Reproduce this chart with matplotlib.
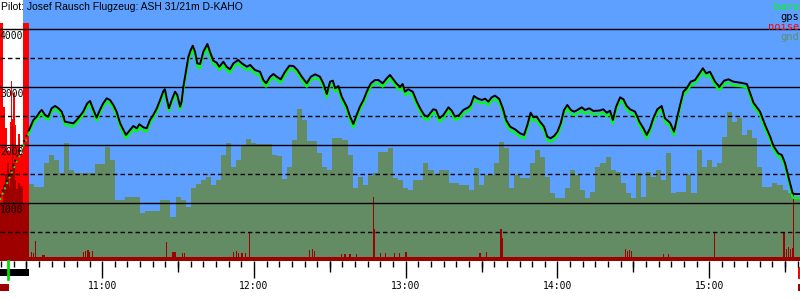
import numpy as np
import matplotlib
matplotlib.use('Agg')
import matplotlib.pyplot as plt
from matplotlib.patches import Rectangle
from matplotlib.ticker import MultipleLocator, FixedLocator, FuncFormatter
from matplotlib.transforms import blended_transform_factory

# time in minutes after 10:00, altitudes in m
title = "Pilot: Josef Rausch Flugzeug: ASH 31/21m D-KAHO"
t_start, t_end = 19.6, 335.9
sky_start = 28.7          # end of tow phase background
tow_window = (19.6, 31.1)
takeoff_t = 22.8
engine_left = (19.6, 23.2)
engine_right = (335.2, 335.9)

hour_ticks = [60, 120, 180, 240, 300]
half_hour_ticks = [30, 90, 150, 210, 270, 330]
solid_levels = [1000, 2000, 3000, 4000]
dashed_levels = [500, 1500, 2500, 3500]

# tow phase (logged sparsely)
tow_t = [19.6, 25.3, 31.1]
tow_gps = [1120, 1700, 2264]
tow_baro = [1057, 1640, 2209]

gps_t = [31.1, 32.8, 34.1, 35.4, 36.1, 37.4, 38.7, 40.0, 41.4, 42.7,
         44.0, 45.3, 47.3, 48.6, 49.9, 51.2, 52.5, 54.1, 55.2, 56.3,
         57.8, 59.1, 60.4, 61.8, 63.1, 64.4, 65.7, 67.1, 68.4, 69.4,
         71.0, 72.3, 73.7, 74.7, 76.3, 77.6, 78.9, 80.2, 81.6, 82.9,
         84.2, 84.8, 85.5, 86.4, 87.5, 88.8, 89.7, 90.8, 91.4, 92.1,
         93.1, 94.1, 95.0, 95.8, 96.7, 97.6, 98.7, 100.0, 101.6, 102.6,
         103.9, 105.3, 106.3, 107.9, 109.2, 110.5, 111.9, 113.8, 115.2, 117.2,
         118.5, 120.4, 122.4, 123.7, 124.8, 126.4, 127.7, 129.0, 130.6, 132.3,
         134.0, 135.6, 137.2, 138.9, 140.9, 142.5, 144.2, 146.1, 147.4, 148.8,
         150.1, 151.2, 152.1, 153.4, 154.7, 156.7, 158.0, 159.3, 160.6, 161.9,
         163.3, 164.6, 166.2, 167.9, 169.2, 170.9, 172.5, 173.8, 175.1, 176.5,
         177.8, 178.8, 179.7, 181.0, 182.8, 184.4, 185.7, 187.3, 188.6, 190.9,
         192.0, 193.3, 194.9, 196.9, 198.2, 199.5, 201.2, 202.8, 204.8, 205.7,
         207.0, 208.3, 210.1, 211.4, 212.7, 214.0, 215.3, 217.0, 218.4, 219.7,
         221.3, 223.2, 225.2, 226.8, 228.1, 229.4, 230.5, 231.8, 233.1, 234.7,
         236.0, 237.3, 238.7, 240.0, 241.3, 242.6, 243.9, 245.3, 246.6, 247.9,
         249.6, 250.9, 252.6, 254.2, 256.8, 258.1, 259.5, 260.8, 261.9, 263.2,
         264.8, 266.1, 267.4, 268.7, 270.7, 272.4, 274.0, 275.3, 276.6, 277.9,
         279.5, 281.2, 282.5, 284.5, 286.1, 287.4, 288.5, 289.8, 291.1, 292.7,
         294.4, 295.7, 297.5, 298.8, 300.3, 302.3, 304.0, 305.9, 307.6, 309.6,
         312.2, 314.9, 316.2, 317.5, 320.1, 322.1, 324.1, 325.4, 327.3, 328.7,
         330.0, 331.3, 333.0, 333.9, 335.9]

gps_alt = [2264, 2436, 2494, 2580, 2609, 2522, 2494, 2638, 2678, 2638,
           2580, 2407, 2390, 2379, 2436, 2505, 2580, 2724, 2764, 2638,
           2476, 2609, 2724, 2810, 2781, 2695, 2580, 2379, 2264, 2178,
           2264, 2333, 2293, 2362, 2310, 2293, 2436, 2522, 2638, 2781,
           2936, 2966, 2810, 2638, 2781, 2924, 2867, 2666, 2752, 3010,
           3269, 3528, 3643, 3717, 3614, 3414, 3400, 3614, 3747, 3614,
           3459, 3424, 3355, 3441, 3355, 3310, 3414, 3471, 3414, 3355,
           3385, 3298, 3269, 3126, 3069, 3183, 3229, 3183, 3138, 3269,
           3372, 3367, 3298, 3183, 3069, 3183, 3224, 3183, 3069, 2884,
           3097, 3114, 2983, 3022, 2838, 2666, 2494, 2367, 2522, 2666,
           2781, 2924, 3069, 3126, 3126, 3069, 3155, 3212, 3138, 3057,
           3010, 3057, 2924, 2966, 2924, 2752, 2638, 2522, 2494, 2621,
           2609, 2466, 2522, 2655, 2597, 2494, 2522, 2609, 2655, 2695,
           2850, 2810, 2781, 2804, 2752, 2827, 2856, 2798, 2638, 2436,
           2321, 2276, 2207, 2178, 2350, 2562, 2483, 2494, 2407, 2321,
           2149, 2121, 2161, 2235, 2379, 2609, 2695, 2609, 2580, 2609,
           2655, 2609, 2638, 2592, 2600, 2621, 2562, 2597, 2436, 2666,
           2827, 2793, 2678, 2621, 2580, 2407, 2293, 2178, 2293, 2466,
           2621, 2678, 2466, 2390, 2235, 2494, 2695, 2924, 2983, 3097,
           3126, 3212, 3328, 3241, 3269, 3097, 3010, 3114, 3138, 3097,
           3080, 3057, 2896, 2735, 2580, 2350, 2149, 1988, 1862, 1833,
           1690, 1459, 1172, 1160, 1160]

baro_alt = [2209, 2381, 2439, 2525, 2554, 2467, 2439, 2583, 2623, 2583,
            2525, 2352, 2335, 2324, 2381, 2450, 2525, 2669, 2709, 2583,
            2421, 2554, 2669, 2755, 2726, 2640, 2525, 2324, 2209, 2123,
            2209, 2278, 2238, 2307, 2255, 2238, 2381, 2467, 2583, 2726,
            2881, 2911, 2755, 2583, 2726, 2869, 2812, 2611, 2697, 2955,
            3199, 3458, 3573, 3647, 3544, 3344, 3330, 3544, 3677, 3544,
            3399, 3364, 3295, 3381, 3295, 3250, 3354, 3411, 3354, 3295,
            3325, 3238, 3209, 3066, 3009, 3123, 3169, 3123, 3078, 3209,
            3312, 3307, 3238, 3123, 3009, 3123, 3164, 3123, 3009, 2824,
            3037, 3054, 2923, 2962, 2778, 2606, 2434, 2307, 2462, 2606,
            2721, 2864, 3009, 3066, 3066, 3009, 3095, 3152, 3078, 2997,
            2950, 2997, 2864, 2906, 2864, 2692, 2578, 2462, 2434, 2561,
            2549, 2406, 2462, 2595, 2537, 2434, 2462, 2549, 2595, 2635,
            2790, 2750, 2721, 2744, 2692, 2767, 2796, 2738, 2578, 2376,
            2261, 2216, 2147, 2118, 2290, 2502, 2423, 2434, 2347, 2261,
            2089, 2061, 2101, 2175, 2319, 2549, 2635, 2549, 2520, 2549,
            2595, 2549, 2578, 2532, 2540, 2561, 2502, 2537, 2376, 2606,
            2767, 2733, 2618, 2561, 2520, 2347, 2233, 2118, 2233, 2406,
            2561, 2618, 2406, 2330, 2175, 2434, 2635, 2864, 2923, 3037,
            3066, 3152, 3268, 3181, 3209, 3037, 2950, 3054, 3078, 3037,
            3020, 2997, 2836, 2675, 2520, 2290, 2089, 1928, 1802, 1773,
            1630, 1399, 1100, 1086, 1086]

# ground elevation, 2 minute bins starting 10:31
gnd_edges = np.arange(31, 338, 2)
gnd_alt = [1333, 1287, 1280, 1690, 1833, 1750, 1517, 2034, 1574, 1517,
           1517, 1517, 1530, 1678, 1678, 1976, 1747, 1057, 1057, 1114,
           1114, 1114, 828, 872, 872, 872, 1057, 1057, 769, 1114,
           1057, 941, 1259, 1330, 1400, 1459, 1316, 1402, 1833, 2034,
           1632, 1747, 2005, 2100, 2034, 2020, 2020, 2020, 1833, 1810,
           1413, 1632, 2091, 2621, 2436, 2080, 2080, 1862, 1632, 1574,
           2121, 2121, 2091, 1833, 1259, 1448, 1316, 1470, 1517, 1890,
           1890, 1948, 1430, 1402, 1259, 1230, 1402, 1402, 1690, 1574,
           1500, 1574, 1574, 1345, 1345, 1316, 1316, 1229, 1600, 1316,
           1488, 1488, 1700, 2062, 1948, 1260, 1480, 1440, 1431, 1690,
           1919, 1803, 1460, 1172, 1086, 1086, 1259, 1574, 1488, 1229,
           1086, 1200, 1632, 1690, 1803, 1574, 1545, 1345, 1172, 1086,
           1517, 1114, 1545, 1459, 1574, 1400, 1862, 1172, 1200, 1200,
           1488, 1172, 1919, 1632, 1747, 1632, 1690, 2150, 2580, 2407,
           2466, 2178, 2264, 2121, 1632, 1287, 1287, 1345, 1316, 1229,
           1172, 1114, 1114]

# noise: floor level, tow/engine phase and spikes during flight
noise_floor = 80
noise_hi_edges = [19.6, 20.8, 21.6, 22.4, 23.4, 23.8, 24.3, 24.9, 25.5, 26.1, 26.9, 27.7, 28.7, 31.1]
noise_hi = [4110, 2660, 2300, 1900, 2400, 3100, 2450, 2900, 2350, 2000, 2200, 1850, 4110]
noise_lo_edges = [19.6, 20.8, 21.6, 22.4, 23.0, 23.6, 24.3, 24.7, 25.5, 26.1, 26.9, 27.5, 28.7, 31.1]
noise_lo = [1000, 1290, 1500, 1690, 1300, 1500, 2350, 1700, 1400, 1250, 1350, 1300, 1000]
spike_t = [32.0, 33.0, 33.8, 36.5, 37.0, 52.6, 53.5, 54.4, 55.0, 56.1,
           85.5, 88.0, 88.8, 91.6, 92.7, 112.0, 113.0, 114.0, 115.3, 116.5,
           118.2, 142.0, 143.0, 144.0, 154.5, 156.0, 158.0, 160.5, 167.2, 167.6,
           170.0, 172.0, 175.5, 177.5, 180.1, 209.4, 211.8, 217.7, 218.1, 266.8,
           267.6, 268.4, 269.3, 282.0, 284.0, 302.2, 329.6, 330.4, 331.2, 332.0,
           332.8, 333.5]
spike_alt = [160, 150, 350, 110, 110, 160, 170, 200, 160, 180,
             340, 160, 160, 140, 140, 160, 170, 150, 140, 140,
             493, 200, 210, 180, 120, 130, 130, 130, 1114, 555,
             150, 150, 150, 150, 155, 140, 155, 557, 400, 210,
             180, 200, 170, 120, 120, 483, 490, 210, 250, 210,
             230, 1160]

sky = '#5da0ff'
ground = '#648c64'
darkred = '#9e0000'
red = '#ff0000'
lime = '#00ff00'
mono = 'DejaVu Sans Mono'

fig = plt.figure(figsize=(8, 3), dpi=100)
ax = fig.add_axes([0, 1 - 261.3 / 300, 1, 261.3 / 300])
ax.set_facecolor('white')
ax.set_xlim(t_start, t_end)
ax.set_ylim(0, 4505)

ax.axvspan(sky_start, t_end, color=sky, lw=0, zorder=0)
ax.stairs(gnd_alt, gnd_edges, fill=True, color=ground, lw=0, zorder=1)
ax.stairs(noise_hi, noise_hi_edges, fill=True, color=red, lw=0, zorder=1.5)
ax.stairs(noise_lo, noise_lo_edges, fill=True, color=darkred, lw=0, zorder=1.6)
ax.axhspan(0, noise_floor, color=darkred, lw=0, zorder=1.7)
ax.bar(spike_t, spike_alt, width=0.45, color=darkred, lw=0, zorder=1.7)

for lev in solid_levels:
    ax.axhline(lev, color='black', lw=1.0, zorder=3)
for lev in dashed_levels:
    ax.axhline(lev, color='black', lw=1.0, ls=(0, (3.2, 2.2)), zorder=3)

ax.plot(tow_t, tow_baro, color=lime, lw=1.4, ls=(0, (1, 2)), zorder=4)
ax.plot(tow_t, tow_gps, color='black', lw=1.3, ls=(0, (1, 2)), zorder=4)
ax.plot(gps_t, baro_alt, color=lime, lw=1.5, zorder=4)
ax.plot(gps_t, gps_alt, color='black', lw=1.4, zorder=5)

for lev in solid_levels:
    ax.annotate(f"{lev}", xy=(0, lev), xycoords=('axes fraction', 'data'),
                xytext=(0, -1.5), textcoords='offset points',
                ha='left', va='top', fontsize=7, family=mono, zorder=6)

for s in ax.spines.values():
    s.set_visible(False)
ax.set_yticks([])
ax.xaxis.set_major_locator(FixedLocator(hour_ticks))
ax.xaxis.set_minor_locator(MultipleLocator(5))
ax.xaxis.set_major_formatter(FuncFormatter(lambda t, pos: f"{10 + int(t // 60)}:{int(t % 60):02d}"))
ax.tick_params(axis='x', which='major', length=12.2, width=1.0, pad=2, labelsize=7)
ax.tick_params(axis='x', which='minor', length=4.3, width=1.0)
for lbl in ax.get_xticklabels():
    lbl.set_family(mono)

sec = ax.secondary_xaxis('bottom')
sec.set_xticks(half_hour_ticks)
sec.set_xticklabels([])
sec.tick_params(length=8.0, width=1.0)
sec.spines['bottom'].set_visible(False)

# tow / engine markers below the axis
tr = blended_transform_factory(ax.transData, ax.transAxes)
ax.add_patch(Rectangle((tow_window[0], -0.0573), tow_window[1] - tow_window[0], 0.0268,
                       transform=tr, color='black', lw=0, clip_on=False))
ax.add_patch(Rectangle((engine_left[0], -0.1145), engine_left[1] - engine_left[0], 0.0267,
                       transform=tr, color=darkred, lw=0, clip_on=False))
ax.add_patch(Rectangle((engine_right[0], -0.1145), engine_right[1] - engine_right[0], 0.0267,
                       transform=tr, color=darkred, lw=0, clip_on=False))
ax.add_patch(Rectangle((engine_right[0], -0.069), engine_right[1] - engine_right[0], 0.046,
                       transform=tr, color=red, lw=0, clip_on=False))
ax.plot([takeoff_t, takeoff_t], [0, -0.069], transform=tr, color='#00dd00', lw=2.0,
        clip_on=False, zorder=6)

fig.text(0.001, 1 - 7 / 300, title, ha='left', va='center', fontsize=7.5,
         family='Liberation Sans', color='black')
legend = [('baro', lime), ('gps', 'black'), ('noise', red), ('gnd', ground)]
for i, (name, col) in enumerate(legend):
    fig.text(0.999, 1 - (7 + 10 * i) / 300, name, ha='right', va='center',
             fontsize=7.5, family=mono, color=col)

fig.savefig('out.png', dpi=100)
